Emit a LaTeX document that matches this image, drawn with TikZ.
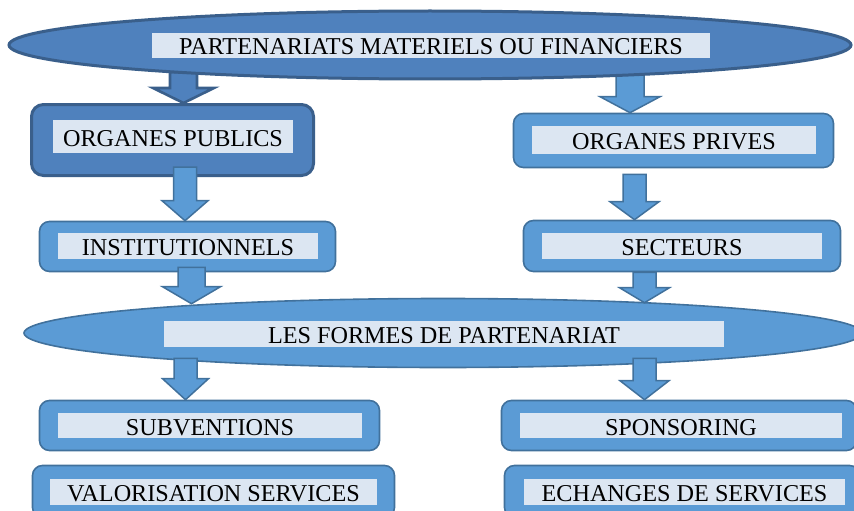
\documentclass[tikz,border=0pt]{standalone}
\usepackage{fontspec}
\setmainfont{Liberation Serif}
\usetikzlibrary{shapes.geometric,calc}
\definecolor{dkfill}{HTML}{4F81BD}
\definecolor{dkline}{HTML}{3A5F8B}
\definecolor{ltfill}{HTML}{5B9BD5}
\definecolor{ltline}{HTML}{41719C}
\definecolor{lblfill}{HTML}{DCE6F2}
\tikzset{
  darkbox/.style={rectangle, rounded corners=12pt, fill=dkfill, draw=dkline, line width=3pt, inner sep=0pt},
  lightbox/.style={rectangle, rounded corners=10pt, fill=ltfill, draw=ltline, line width=1.6pt, inner sep=0pt},
  darkell/.style={ellipse, fill=dkfill, draw=dkline, line width=3pt, inner sep=0pt},
  lightell/.style={ellipse, fill=ltfill, draw=ltline, line width=1.6pt, inner sep=0pt},
  lbl/.style={rectangle, fill=lblfill, inner sep=0pt, text=black, text height=19pt, text depth=0pt, font=\fontsize{24.2}{29}\selectfont},
  darkarr/.style={fill=dkfill, draw=dkline, line width=2.6pt, line join=miter},
  lightarr/.style={fill=ltfill, draw=ltline, line width=1.5pt, line join=miter},
}
% #1 style, #2 source, #3 target, #4 x, #5 rise of shaft start, #6 shaft half width, #7 head half width, #8 head length
\newcommand\blockarr[8]{%
  \draw[#1] let \p1=(#2), \p2=(#3) in
    ({#4pt-#6pt},{\y1+#5pt}) -- ({#4pt-#6pt},{\y2+#8pt}) -- ({#4pt-#7pt},{\y2+#8pt})
    -- (#4pt,\y2) -- ({#4pt+#7pt},{\y2+#8pt}) -- ({#4pt+#6pt},{\y2+#8pt})
    -- ({#4pt+#6pt},{\y1+#5pt}) -- cycle;}
\begin{document}
\begin{tikzpicture}[x=1pt,y=-1pt]
\useasboundingbox (0,0) rectangle (854,511);
\clip (0,0) rectangle (854,511);

% boxes
\node[darkbox, minimum width=282pt, minimum height=71pt] (pub) at (172.5,140) {};
\node[lightbox, minimum width=320pt, minimum height=54pt] (priv) at (673.5,140.5) {};
\node[lightbox, minimum width=296pt, minimum height=50pt] (inst) at (187.5,246.5) {};
\node[lightbox, minimum width=317pt, minimum height=51pt] (sect) at (682,246) {};
\node[lightbox, minimum width=340pt, minimum height=50pt] (subv) at (209.5,425.5) {};
\node[lightbox, minimum width=355pt, minimum height=50pt] (spons) at (679,425.5) {};
\node[lightbox, minimum width=362pt, minimum height=52pt] (valo) at (213.5,491.5) {};
\node[lightbox, minimum width=355pt, minimum height=52pt] (ech) at (682,491.5) {};

% top ellipse and its arrows (arrows behind)
\coordinate (topsouth) at (430,80);
\blockarr{darkarr}{topsouth}{pub.north}{183.5}{8}{13.5}{30.5}{15}
\blockarr{lightarr}{topsouth}{priv.north}{630}{8}{14}{30}{16}
\node[darkell, minimum width=842pt, minimum height=68pt] (top) at (430,45) {};
\node[lbl, minimum width=558pt, minimum height=25pt] (toplbl) at (431,45.5) {PARTENARIATS MATERIELS OU FINANCIERS};

% second ellipse
\node[lightell, minimum width=838pt, minimum height=69pt] (formes) at (443,333) {};
\node[lbl, minimum width=560pt, minimum height=26pt] (formeslbl) at (444,334) {LES FORMES DE PARTENARIAT};

% labels
\node[lbl, minimum width=240pt, minimum height=33pt] (publbl) at (173,136.5) {ORGANES PUBLICS};
\node[lbl, minimum width=284pt, minimum height=28pt] (privlbl) at (674,140) {ORGANES PRIVES};
\node[lbl, minimum width=260pt, minimum height=26pt] (instlbl) at (188,246) {INSTITUTIONNELS};
\node[lbl, minimum width=280pt, minimum height=26pt] (sectlbl) at (682,246) {SECTEURS};
\node[lbl, minimum width=304pt, minimum height=25pt] (subvlbl) at (210,425.5) {SUBVENTIONS};
\node[lbl, minimum width=322pt, minimum height=25pt] (sponslbl) at (681,425.5) {SPONSORING};
\node[lbl, minimum width=327pt, minimum height=26pt] (valolbl) at (213.5,492) {VALORISATION SERVICES};
\node[lbl, minimum width=321pt, minimum height=26pt] (echlbl) at (684.5,492) {ECHANGES DE SERVICES};

% arrows
\blockarr{lightarr}{pub.south}{inst.north}{185}{10}{11.5}{23}{20}
\blockarr{lightarr}{priv.south}{sect.north}{634.5}{-6}{11.5}{24.5}{18}
\blockarr{lightarr}{inst.south}{[yshift=-6pt]formes.north}{191.5}{5}{13.5}{29}{17}
\blockarr{lightarr}{sect.south}{[yshift=-5pt]formes.north}{644.5}{0}{11.5}{25}{15}
\blockarr{lightarr}{formes.south}{subv.north}{185.5}{10}{11.5}{23}{21}
\blockarr{lightarr}{formes.south}{spons.north}{644.5}{10}{11.5}{24.5}{19}
\end{tikzpicture}
\end{document}
